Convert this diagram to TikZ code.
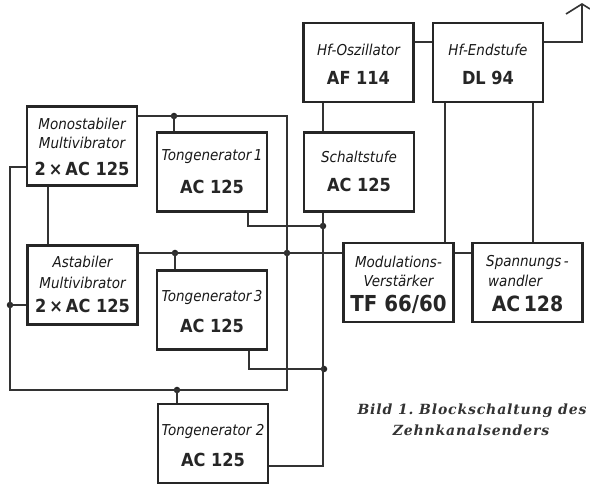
\documentclass[tikz,border=0pt]{standalone}
\usepackage{fontspec}
\newfontfamily\dvc{DejaVu Sans Condensed}[BoldFont={DejaVu Sans Condensed Bold},ItalicFont={DejaVu Sans Condensed Oblique},BoldItalicFont={DejaVu Sans Condensed Bold Oblique}]
\newfontfamily\dvs{DejaVu Serif}[LetterSpace=6]
\begin{document}
\begin{tikzpicture}[x=1pt,y=-1pt,
  box/.style={draw=black!85, line width=2.6pt, minimum width=110pt, minimum height=79pt, inner sep=0pt},
  nm/.style={font=\dvc\itshape\fontsize{15}{16}\selectfont, text=black!90, inner sep=0pt},
  tp/.style={font=\dvc\bfseries\fontsize{18}{20}\selectfont, text=black!85, inner sep=0pt},
  wire/.style={draw=black!80, line width=1.1pt},
  dot/.style={circle, fill=black!85, inner sep=0pt, minimum size=6.5pt},
  captxt/.style={font=\dvs\bfseries\itshape\fontsize{14}{16}\selectfont, text=black!80, inner sep=0pt, anchor=base}]
\useasboundingbox[fill=white] (0,0) rectangle (590,486);

% boxes
\node[box] (mono) at (82,146) {};
\node[box] (ton1) at (212,172) {};
\node[box] (ast)  at (82.5,285) {};
\node[box] (ton3) at (212,310) {};
\node[box] (ton2) at (213,443.5) {};
\node[box] (osz)  at (358.5,62.5) {};
\node[box] (hfe)  at (488,62.5) {};
\node[box] (sch)  at (359,172) {};
\node[box] (mod)  at (398.5,282.5) {};
\node[box] (spa)  at (527.5,282.5) {};

% texts
\node[nm] (mono1) at ([yshift=22pt]mono.center) {Monostabiler};
\node[nm] (mono2) at ([yshift=3pt]mono.center) {Multivibrator};
\node[tp] (mono3) at ([yshift=-23pt]mono.center) {2\,×\,AC 125};
\node[nm] (ast1) at ([yshift=23pt]ast.center) {Astabiler};
\node[nm] (ast2) at ([yshift=2pt]ast.center) {Multivibrator};
\node[tp] (ast3) at ([yshift=-21pt]ast.center) {2\,×\,AC 125};
\node[nm] (ton1a) at ([yshift=15pt]ton1.center) {Tongenerator\,1};
\node[tp] (ton1b) at ([yshift=-15pt]ton1.center) {AC 125};
\node[nm] (ton3a) at ([yshift=13pt]ton3.center) {Tongenerator\,3};
\node[tp] (ton3b) at ([yshift=-16pt]ton3.center) {AC 125};
\node[nm] (ton2a) at ([yshift=12pt]ton2.center) {Tongenerator 2};
\node[tp] (ton2b) at ([yshift=-16pt]ton2.center) {AC 125};
\node[nm] (osza) at ([yshift=12.5pt]osz.center) {Hf-Oszillator};
\node[tp] (oszb) at ([yshift=-15.5pt]osz.center) {AF 114};
\node[nm] (hfea) at ([yshift=12.5pt]hfe.center) {Hf-Endstufe};
\node[tp] (hfeb) at ([yshift=-15.5pt]hfe.center) {DL 94};
\node[nm] (scha) at ([yshift=15pt]sch.center) {Schaltstufe};
\node[tp] (schb) at ([yshift=-13pt]sch.center) {AC 125};
\node[nm] (moda) at ([yshift=20.5pt]mod.center) {Modulations-};
\node[nm] (modb) at ([yshift=1.5pt]mod.center) {Verstärker};
\node[tp, font=\dvc\bfseries\fontsize{22}{24}\selectfont] (modc) at ([yshift=-21.5pt]mod.center) {TF 66/60};
\node[nm] (spaa) at ([yshift=20.5pt]spa.center) {Spannungs\,-};
\node[nm, anchor=west] (spab) at ([xshift=-39.5pt,yshift=1.5pt]spa.center) {wandler};
\node[tp, font=\dvc\bfseries\fontsize{21}{23}\selectfont] (spac) at ([yshift=-21.5pt]spa.center) {AC\,128};

% junctions and corners
\node[dot] (d1) at (174,116) {};
\node[dot] (d2) at (287,253) {};
\node[dot] (d3) at (175,253) {};
\node[dot] (d4) at (177,390) {};
\node[dot] (d5) at (10,305) {};
\node[dot] (d6) at (323,226) {};
\node[dot] (d7) at (324,369) {};
\coordinate (c1) at (287,116);
\coordinate (c2) at (287,390);
\coordinate (c3) at (10,390);
\coordinate (c4) at (10,167);
\coordinate (c5) at (323,466);
\coordinate (c6) at (248,226);
\coordinate (c7) at (249,369);
\coordinate (vm) at (48,215);
\coordinate (v1) at (445,170);
\coordinate (v2) at (533,170);
\coordinate (h1) at (0,42);
\coordinate (ant) at (582,42);
\coordinate (tip) at (582,4);

% wires
\draw[wire] (mono.east |- d1) -- (c1) -- (c2) -- (c3) -- (c4) -- (mono.west |- c4);
\draw[wire] (d1.center) -- (d1 |- ton1.north);
\draw[wire] (d5.center) -- (ast.west |- d5);
\draw[wire] (d4.center) -- (d4 |- ton2.north);
\draw[wire] (ast.east |- d3) -- (mod.west |- d3);
\draw[wire] (d3.center) -- (d3 |- ton3.north);
\draw[wire] (sch.south -| d6) -- (c5) -- (ton2.east |- c5);
\draw[wire] (ton1.south -| c6) -- (c6) -- (d6.center);
\draw[wire] (ton3.south -| c7) -- (c7) -- (d7.center);
\draw[wire] (mono.south -| vm) -- (ast.north -| vm);
\draw[wire] (osz.south -| d6) -- (sch.north -| d6);
\draw[wire] (osz.east |- h1) -- (hfe.west |- h1);
\draw[wire] (hfe.south -| v1) -- (mod.north -| v1);
\draw[wire] (hfe.south -| v2) -- (spa.north -| v2);
\draw[wire] (mod.east |- d3) -- (spa.west |- d3);
\draw[wire] (hfe.east |- ant) -- (ant) -- (tip);
\draw[wire, line width=1.6pt] ([xshift=-16pt,yshift=-10pt]tip) -- (tip) -- ([xshift=8pt,yshift=-5pt]tip);

% caption
\node[captxt] (cap1) at (472,415) {Bild 1.~Blockschaltung des};
\node[captxt] (cap2) at (471,436) {Zehnkanalsenders};
\end{tikzpicture}
\end{document}
